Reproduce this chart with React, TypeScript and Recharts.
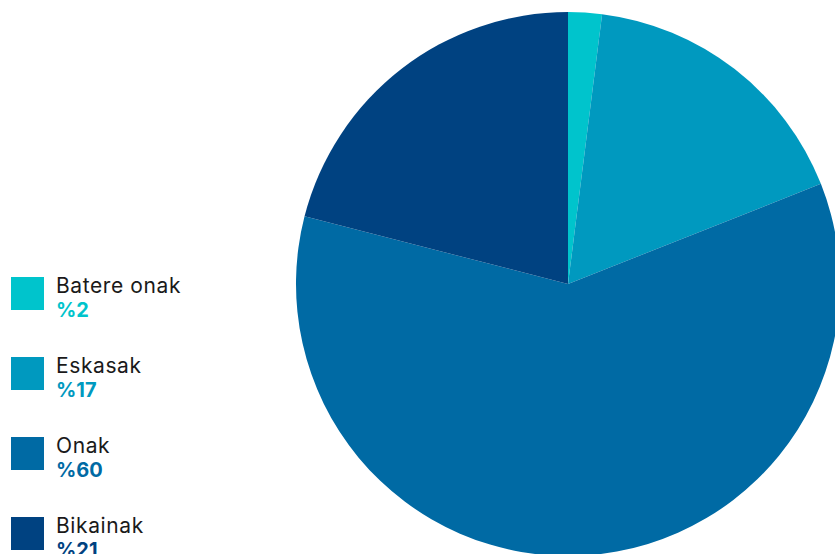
import { Cell, Pie, PieChart } from "recharts";

const categories = ["Batere onak", "Eskasak", "Onak", "Bikainak"];
const values = [2, 17, 60, 21];
const colors = ["#00C4CC", "#0099BF", "#006AA4", "#004281"];

const data = categories.map((name, i) => ({ name, value: values[i] }));

const LegendBlock = () => (
  <div style={{ position: "absolute", left: 0, top: 0, width: 220, height: 554 }}>
    {data.map((d, i) => (
      <div key={d.name} style={{ position: "absolute", left: 11, top: 277 + i * 80 }}>
        <div style={{ position: "absolute", left: 0, top: 0, width: 33, height: 33, background: colors[i] }} />
        <div
          style={{
            position: "absolute",
            left: 45,
            top: -2,
            fontSize: 21,
            lineHeight: "22px",
            letterSpacing: 0.6,
            color: "#1a1a1a",
            whiteSpace: "nowrap",
          }}
        >
          {d.name}
        </div>
        <div
          style={{
            position: "absolute",
            left: 45,
            top: 22,
            fontSize: 20,
            lineHeight: "22px",
            fontWeight: 700,
            color: colors[i],
            whiteSpace: "nowrap",
          }}
        >
          %{d.value}
        </div>
      </div>
    ))}
  </div>
);

const App = () => {
  return (
    <div
      style={{
        position: "absolute",
        left: 0,
        top: 0,
        width: 835,
        height: 554,
        overflow: "hidden",
        fontFamily: "Inter, sans-serif",
        background: "#fff",
      }}
    >
      <PieChart width={835} height={554} margin={{ top: 0, right: 0, bottom: 0, left: 0 }}>
        <Pie
          data={data}
          dataKey="value"
          nameKey="name"
          cx={568}
          cy={284}
          outerRadius={272}
          startAngle={90}
          endAngle={-270}
          stroke="none"
          isAnimationActive={false}
        >
          {data.map((d, i) => (
            <Cell key={d.name} fill={colors[i]} />
          ))}
        </Pie>
      </PieChart>
      <LegendBlock />
    </div>
  );
};

export default App;
